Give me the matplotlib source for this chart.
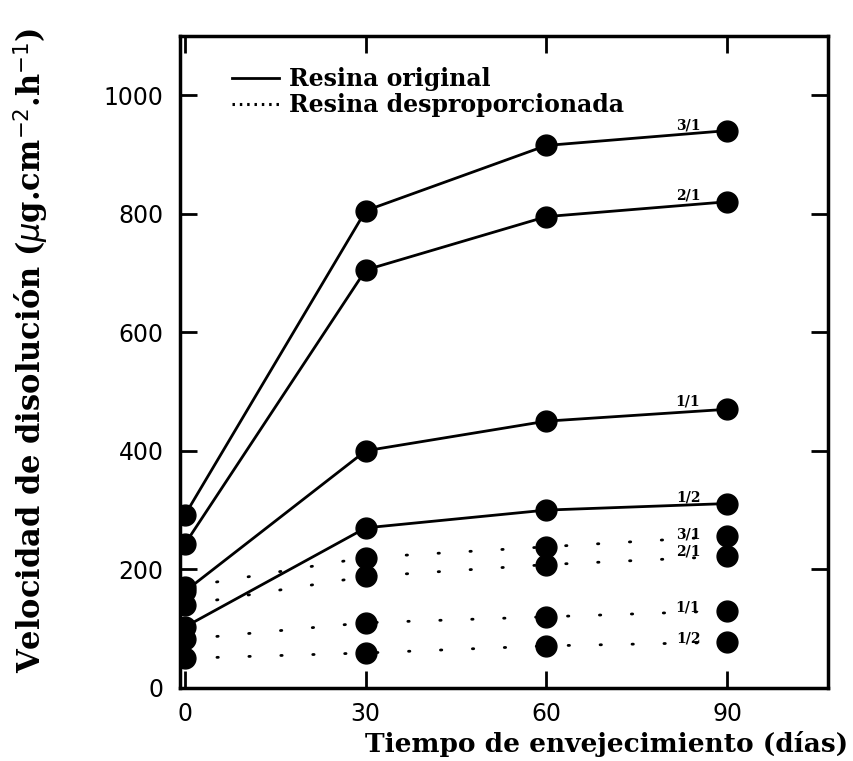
import matplotlib
matplotlib.use("Agg")
from matplotlib import pyplot as plt
from matplotlib.lines import Line2D

dias = [0, 30, 60, 90]
ratios = ["3/1", "2/1", "1/1", "1/2"]

# Resina original (solid)
orig_31 = [292, 805, 915, 940]
orig_21 = [243, 705, 795, 820]
orig_11 = [163, 400, 450, 470]
orig_12 = [103, 270, 300, 311]

# Resina desproporcionada (dotted)
desp_31 = [170, 220, 238, 256]
desp_21 = [140, 188, 208, 222]
desp_11 = [82, 110, 120, 130]
desp_12 = [50, 59, 71, 77]

# label positions (x in days, y in data units)
lab_x = 83.5
lab_orig_y = [948, 830, 483, 321]
lab_desp_y = [258, 230, 135, 84]

serif = ["DejaVu Serif"]

fig = plt.figure(figsize=(8.54, 7.61), dpi=100)
ax = fig.add_axes([0.211, 0.096, 0.759, 0.857])

for serie in [orig_31, orig_21, orig_11, orig_12]:
    ax.plot(dias, serie, color="black", linewidth=2, marker="o",
            markersize=15, markerfacecolor="black", markeredgecolor="black")

for serie in [desp_31, desp_21, desp_11, desp_12]:
    ax.plot(dias, serie, color="black", linewidth=2.0, linestyle=(0, (0.5, 11)),
            dash_capstyle="round", marker="o", markersize=15,
            markerfacecolor="black", markeredgecolor="black")

for r, y in zip(ratios, lab_orig_y):
    ax.text(lab_x, y, r, fontsize=10, fontweight="bold", family=serif,
            ha="center", va="center")
for r, y in zip(ratios, lab_desp_y):
    ax.text(lab_x, y, r, fontsize=10, fontweight="bold", family=serif,
            ha="center", va="center")

handles = [Line2D([], [], color="black", linewidth=2),
           Line2D([], [], color="black", linewidth=2.2, linestyle=(0, (0.8, 1.6)))]
ax.legend(handles, ["Resina original", "Resina desproporcionada"],
          loc="upper left", bbox_to_anchor=(0.047, 0.985), frameon=False,
          handlelength=2.0, handletextpad=0.4, labelspacing=0.1,
          prop={"family": serif, "weight": "bold", "size": 17})

ax.set_xlim(-0.8, 106.8)
ax.set_ylim(0, 1100)
ax.set_xticks([0, 30, 60, 90])
ax.set_yticks([0, 200, 400, 600, 800, 1000])
ax.tick_params(direction="in", length=12, width=2, labelsize=17,
               top=True, right=True)
ax.tick_params(axis="y", pad=12)
ax.tick_params(axis="x", pad=10)
for s in ax.spines.values():
    s.set_linewidth(2.5)

fig.text(848 / 854, 0.012, "Tiempo de envejecimiento (días)", fontsize=19,
         fontweight="bold", family=serif, ha="right", va="baseline")
ax.set_ylabel("Velocidad de disolución ($\\mu$g.cm$^{-2}$.h$^{-1}$)", fontsize=22,
              fontweight="bold", family=serif)
ax.yaxis.set_label_coords(-0.2, 0.518)

fig.savefig("out.png", dpi=100)
